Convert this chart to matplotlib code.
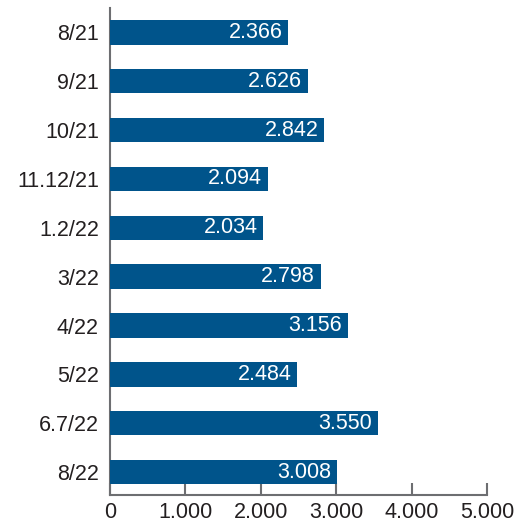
import matplotlib.pyplot as plt

# --- Data ---
periods = ['8/21', '9/21', '10/21', '11.12/21', '1.2/22', '3/22', '4/22', '5/22', '6.7/22', '8/22']
values = [2366, 2626, 2842, 2094, 2034, 2798, 3156, 2484, 3550, 3008]
xticks = [0, 1000, 2000, 3000, 4000, 5000]

bar_color = '#00548b'
text_color = '#231f20'
spine_color = '#6d6e71'

plt.rcParams['font.family'] = ['Liberation Sans', 'DejaVu Sans']

fig = plt.figure(figsize=(5.19, 5.23), dpi=100)
ax = fig.add_axes([110 / 519, 28 / 523, 377 / 519, 487 / 523])

y = list(range(len(periods)))
ax.barh(y, values, height=0.5, color=bar_color, zorder=3)

def fmt(v):
    return f'{v:,}'.replace(',', '.')

for yi, v in zip(y, values):
    ax.annotate(fmt(v), xy=(v, yi), xytext=(-4.3, 0), textcoords='offset points',
                ha='right', va='center', color='white', fontsize=15.5, zorder=4)

ax.set_ylim(len(periods) - 0.53, -0.5)
ax.set_xlim(0, 5000)
ax.set_yticks(y)
ax.set_yticklabels(periods)
ax.set_xticks(xticks)
ax.set_xticklabels([fmt(t) for t in xticks])

for s in ['top', 'right']:
    ax.spines[s].set_visible(False)
for s in ['left', 'bottom']:
    ax.spines[s].set_color(spine_color)
    ax.spines[s].set_linewidth(1.5)

ax.tick_params(axis='y', length=0, pad=8, labelsize=15.5, labelcolor=text_color)
ax.tick_params(axis='x', direction='in', length=9, width=1.5, color=spine_color,
               pad=5, labelsize=15.5, labelcolor=text_color)

fig.savefig('out.png', dpi=100)
